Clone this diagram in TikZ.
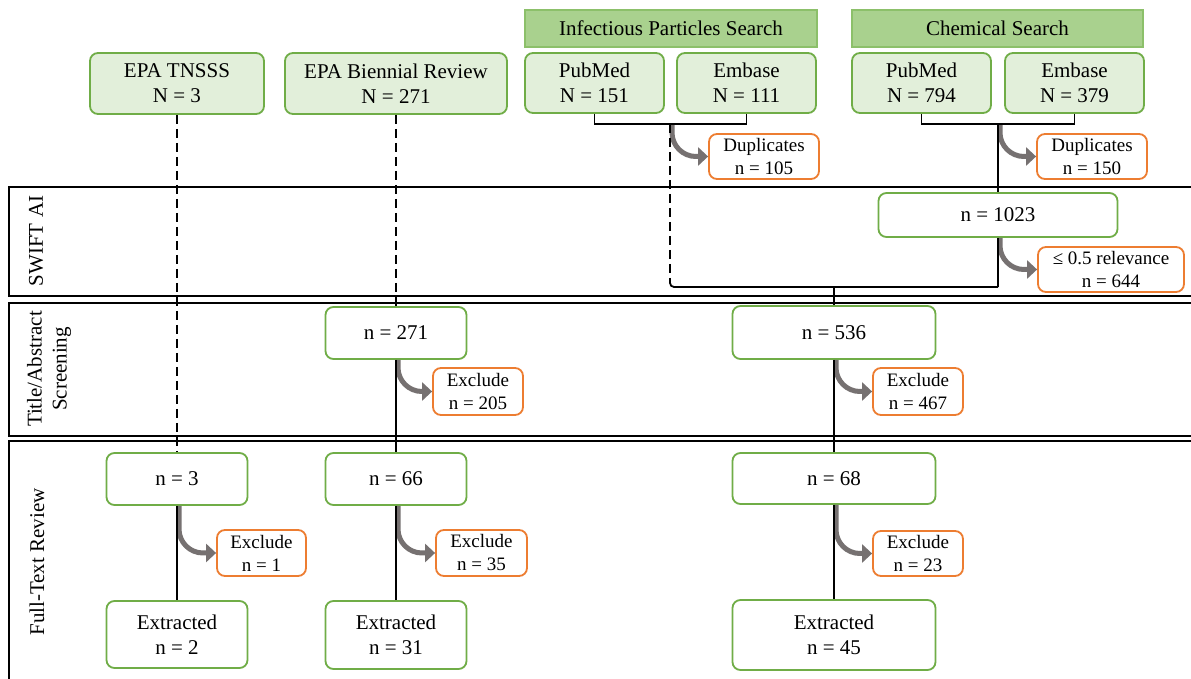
\documentclass[tikz,border=0pt]{standalone}
\usepackage{fontspec}
\setmainfont{Liberation Serif}
\usetikzlibrary{arrows.meta}
\definecolor{gborder}{HTML}{70AD47}
\definecolor{gfill}{HTML}{E2EFDA}
\definecolor{hfill}{HTML}{A9D18E}
\definecolor{hborder}{HTML}{8CC06A}
\definecolor{oborder}{HTML}{ED7D31}
\definecolor{garrow}{HTML}{767171}
\begin{document}
\begin{tikzpicture}[x=0.5pt,y=-0.5pt,
  mainfont/.style={font=\fontsize{10.5}{12.5}\selectfont},
  smallfont/.style={font=\fontsize{9.5}{11.5}\selectfont},
  srcbox/.style={mainfont,draw=gborder,fill=gfill,line width=0.9pt,rounded corners=4pt,align=center,inner sep=0pt},
  hdrbox/.style={mainfont,draw=hborder,fill=hfill,line width=0.7pt,align=center,inner sep=0pt},
  stagebox/.style={mainfont,draw=gborder,fill=white,line width=0.9pt,rounded corners=4pt,align=center,inner sep=0pt},
  exbox/.style={smallfont,draw=oborder,fill=white,line width=0.9pt,rounded corners=4pt,align=center,inner sep=0pt},
  lane/.style={draw=black,line width=1.1pt},
  lanelabel/.style={mainfont,rotate=90,align=center,inner sep=0pt},
  flow/.style={draw=black,line width=0.9pt},
  dashflow/.style={draw=black,line width=0.9pt,dash pattern=on 4.5pt off 2.5pt},
  greyarrow/.style={draw=garrow,line width=2.5pt,rounded corners=12pt,-{Triangle[length=5pt,width=9pt]}}
]
\useasboundingbox (0,0) rectangle (1191,679);
\fill[white] (0,0) rectangle (1191,679);

% lanes
\draw[lane] (9,187) rectangle (1196,296);
\draw[lane] (9,303) rectangle (1196,436);
\draw[lane] (9,441) rectangle (1196,700);
\node[lanelabel] (l1) at (36,241) {SWIFT AI};
\node[lanelabel] (l2) at (49,369) {Title/Abstract\\Screening};
\node[lanelabel] (l3) at (37,562) {Full-Text Review};

% coordinates
\coordinate (inf) at (670,124);
\coordinate (chm) at (998,124);
\coordinate (infdash) at (670,279);
\coordinate (merge) at (998,287);
\coordinate (join) at (834,287);

% nodes (top)
\node[hdrbox,minimum width=146pt,minimum height=18.5pt] (hinf) at (671,28.5) {Infectious Particles Search};
\node[hdrbox,minimum width=145.5pt,minimum height=18.5pt] (hchem) at (997.5,28.5) {Chemical Search};
\node[srcbox,minimum width=87pt,minimum height=30.5pt] (tnsss) at (177,83.5) {EPA TNSSS\\N = 3};
\node[srcbox,minimum width=111pt,minimum height=30.5pt] (bien) at (396,83.5) {EPA Biennial Review\\N = 271};
\node[srcbox,minimum width=69.5pt,minimum height=30pt] (pm1) at (594.5,83) {PubMed\\N = 151};
\node[srcbox,minimum width=69.5pt,minimum height=30pt] (em1) at (746.5,83) {Embase\\N = 111};
\node[srcbox,minimum width=69.5pt,minimum height=30pt] (pm2) at (921.5,83) {PubMed\\N = 794};
\node[srcbox,minimum width=69.5pt,minimum height=30pt] (em2) at (1074.5,83) {Embase\\N = 379};

\node[exbox,minimum width=55pt,minimum height=22.5pt] (dup1) at (764,156.5) {Duplicates\\n = 105};
\node[exbox,minimum width=55pt,minimum height=22.5pt] (dup2) at (1092,156.5) {Duplicates\\n = 150};
\node[stagebox,minimum width=119.5pt,minimum height=22pt] (n1023) at (998,215) {n = 1023};
\node[exbox,minimum width=73pt,minimum height=22.5pt] (rel) at (1111,269.5) {≤ 0.5 relevance\\n = 644};

\node[stagebox,minimum width=70.5pt,minimum height=26pt] (n271) at (396,333) {n = 271};
\node[exbox,minimum width=45pt,minimum height=23.5pt] (ex205) at (478,391.5) {Exclude\\n = 205};
\node[stagebox,minimum width=101.5pt,minimum height=26.5pt] (n536) at (834,332.5) {n = 536};
\node[exbox,minimum width=45pt,minimum height=23.5pt] (ex467) at (918,391.5) {Exclude\\n = 467};

\node[stagebox,minimum width=70.5pt,minimum height=26pt] (n3) at (177,479) {n = 3};
\node[exbox,minimum width=44.5pt,minimum height=23pt] (ex1) at (261.5,553) {Exclude\\n = 1};
\node[stagebox,minimum width=70.5pt,minimum height=33.5pt] (ext2) at (177,634.5) {Extracted\\n = 2};
\node[stagebox,minimum width=70.5pt,minimum height=26pt] (n66) at (396,479) {n = 66};
\node[exbox,minimum width=45.5pt,minimum height=23pt] (ex35) at (481.5,553) {Exclude\\n = 35};
\node[stagebox,minimum width=70.5pt,minimum height=34pt] (ext31) at (396,635) {Extracted\\n = 31};
\node[stagebox,minimum width=101.5pt,minimum height=25.5pt] (n68) at (834,478.5) {n = 68};
\node[exbox,minimum width=45pt,minimum height=22.5pt] (ex23) at (918,553.5) {Exclude\\n = 23};
\node[stagebox,minimum width=101.5pt,minimum height=35pt] (ext45) at (834,635) {Extracted\\n = 45};

% grey exclusion arrows
\draw[greyarrow] ([xshift=1pt]inf) |- (dup1.west);
\draw[greyarrow] ([xshift=1pt]chm) |- (dup2.west);
\draw[greyarrow] ([xshift=1pt]n1023.south) |- (rel.west);
\draw[greyarrow] ([xshift=1pt]n271.south) |- (ex205.west);
\draw[greyarrow] ([xshift=1pt]n536.south) |- (ex467.west);
\draw[greyarrow] ([xshift=1pt]n3.south) |- (ex1.west);
\draw[greyarrow] ([xshift=1pt]n66.south) |- (ex35.west);
\draw[greyarrow] ([xshift=1pt]n68.south) |- (ex23.west);

% brackets and flow lines
\draw[flow] (pm1.south) |- (inf) -| (em1.south);
\draw[flow] (pm2.south) |- (chm) -| (em2.south);
\draw[dashflow] (tnsss.south) -- (n3.north);
\draw[dashflow] (bien.south) -- (n271.north);
\draw[dashflow] (inf) -- (infdash);
\draw[flow,rounded corners=2pt] (infdash) |- (merge);
\draw[flow] (chm) -- (n1023.north);
\draw[flow] (n1023.south) -- (merge);
\draw[flow] (join) -- (n536.north);
\draw[flow] (n271.south) -- (n66.north);
\draw[flow] (n536.south) -- (n68.north);
\draw[flow] (n3.south) -- (ext2.north);
\draw[flow] (n66.south) -- (ext31.north);
\draw[flow] (n68.south) -- (ext45.north);
\end{tikzpicture}
\end{document}
